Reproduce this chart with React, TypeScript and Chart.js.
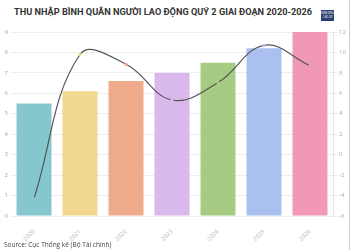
import React, { useEffect, useRef } from "react";
import { Chart, registerables } from "chart.js";

Chart.register(...registerables);

const years = ["2020", "2021", "2022", "2023", "2024", "2025", "2026"];
// average monthly income, million VND (left axis)
const income = [5.5, 6.1, 6.6, 7.0, 7.5, 8.2, 9.0];
// year-on-year growth, % (right axis)
const growth = [-4.3, 9.8, 8.85, 5.35, 7.05, 10.7, 8.7];
const barColors = [
  "#86c6cd",
  "#f2d790",
  "#eeaa8a",
  "#d9b9ec",
  "#a6cb83",
  "#aac0ef",
  "#f198b5",
];

const tickFont = { family: "Open Sans", size: 6 };

export default function App() {
  const canvasRef = useRef<HTMLCanvasElement | null>(null);

  useEffect(() => {
    document.body.style.margin = "0";
    const ctx = canvasRef.current!.getContext("2d")!;
    const chart = new Chart(ctx, {
      type: "bar",
      data: {
        labels: years,
        datasets: [
          {
            type: "line",
            label: "Tăng trưởng",
            data: growth,
            yAxisID: "y1",
            borderColor: "#555555",
            borderWidth: 1.2,
            tension: 0.4,
            pointRadius: 1.6,
            pointBorderWidth: 0,
            pointBackgroundColor: barColors,
            order: 0,
          },
          {
            type: "bar",
            label: "Thu nhập",
            data: income,
            yAxisID: "y",
            backgroundColor: barColors,
            borderWidth: 0,
            categoryPercentage: 1,
            barPercentage: 0.76,
            order: 1,
          },
        ],
      },
      options: {
        animation: false,
        responsive: false,
        maintainAspectRatio: false,
        layout: { padding: { top: 32, bottom: 0, left: 0, right: 0 } },
        plugins: { legend: { display: false }, tooltip: { enabled: false } },
        scales: {
          x: {
            grid: { display: false },
            border: { display: false },
            ticks: {
              color: "#b4b4b4",
              font: tickFont,
              minRotation: 45,
              maxRotation: 45,
              padding: 4,
            },
            afterFit: (s: any) => {
              s.height = 34;
            },
          },
          y: {
            position: "left",
            min: 0,
            max: 9,
            ticks: { stepSize: 1, color: "#aaaaaa", font: tickFont, padding: 3 },
            grid: { color: "#eeeeee", drawTicks: false },
            border: { display: false },
            afterFit: (s: any) => {
              s.width = 11;
            },
          },
          y1: {
            position: "right",
            min: -6,
            max: 12,
            ticks: { stepSize: 2, color: "#aaaaaa", font: tickFont, padding: 2 },
            grid: { drawOnChartArea: false, color: "#e6e6e6", tickLength: 4 },
            border: { color: "#e6e6e6" },
            afterFit: (s: any) => {
              s.width = 17;
            },
          },
        },
      },
    });
    return () => chart.destroy();
  }, []);

  return (
    <div
      style={{
        position: "relative",
        width: 350,
        height: 250,
        background: "#ffffff",
        overflow: "hidden",
        fontFamily: "'Open Sans', sans-serif",
      }}
    >
      <div
        style={{
          position: "absolute",
          left: 14,
          width: 298,
          top: 4,
          height: 14,
          display: "flex",
          justifyContent: "center",
          alignItems: "center",
        }}
      >
        <span
          style={{
            display: "inline-block",
            fontFamily: "Roboto, sans-serif",
            fontSize: 9.4,
            fontWeight: 700,
            color: "#333333",
            whiteSpace: "nowrap",
            transform: "scaleX(0.98)",
          }}
        >
          THU NHẬP BÌNH QUÂN NGƯỜI LAO ĐỘNG QUÝ 2 GIAI ĐOẠN 2020-2026
        </span>
      </div>
      <div
        style={{
          position: "absolute",
          left: 321,
          top: 10,
          width: 13,
          height: 11,
          background: "#2c3e73",
          color: "#ffffff",
          fontSize: 3,
          lineHeight: "4px",
          textAlign: "center",
          paddingTop: 1,
          boxSizing: "border-box",
          fontFamily: "'Liberation Serif', serif",
          zIndex: 2,
        }}
      >
        MEKONG
        <br />
        ASEAN
      </div>
      <div
        style={{
          position: "absolute",
          right: 0,
          top: 0,
          width: 1,
          height: 250,
          background: "#d0d0d0",
        }}
      />
      <canvas
        ref={canvasRef}
        width={350}
        height={250}
        style={{ position: "absolute", left: 0, top: 0 }}
      />
      <div
        style={{
          position: "absolute",
          left: 4,
          top: 240,
          fontSize: 6.5,
          color: "#444444",
          whiteSpace: "nowrap",
        }}
      >
        Source: Cục Thống kê (Bộ Tài chính)
      </div>
    </div>
  );
}
